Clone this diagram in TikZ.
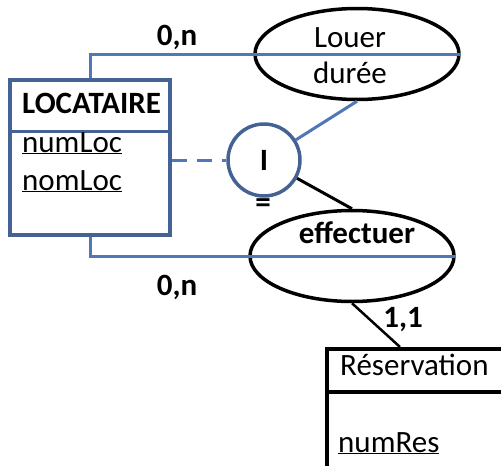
\documentclass[tikz,border=0pt]{standalone}
\usepackage{fontspec}
\setmainfont{Carlito}
\usetikzlibrary{shapes.geometric,calc}
\definecolor{entblue}{RGB}{68,98,148}
\definecolor{lnkblue}{RGB}{80,120,184}

\begin{document}
\begin{tikzpicture}[x=1pt,y=-1pt,font=\fontsize{31}{37}\selectfont,
   ent/.style={draw=entblue,line width=3.5pt,minimum width=160pt,minimum height=155pt},
   rel/.style={ellipse,draw,line width=3.5pt,minimum width=204pt,minimum height=91pt},
   lnk/.style={draw=lnkblue,line width=3pt},
   txt/.style={anchor=base west,inner sep=0pt},
   lab/.style={anchor=base,inner sep=0pt,font=\fontsize{31}{37}\selectfont\bfseries}]
  \clip (0,0) rectangle (501,466);
  % entities
  \node[ent] (loc) at (90,157.5) {};
  \draw[lnk,draw=entblue,line width=2.5pt] ([yshift=-53pt]loc.north west) -- ([yshift=-53pt]loc.north east);
  \node[txt] (loctitle) at (22,113) {\textbf{LOCATAIRE}};
  \node[txt] (numloc) at (22,152) {\underline{numLoc}};
  \node[txt] (nomloc) at (22,190) {\underline{nomLoc}};
  \node[draw,line width=3.5pt,minimum width=250pt,minimum height=200pt,anchor=north west] (res) at (325,347) {};
  \draw[line width=3.5pt] ([yshift=-45pt]res.north west) -- ([yshift=-45pt]res.north east);
  \node[txt] (restitle) at (340,375) {Réservation};
  \node[txt] (numres) at (338,452) {\underline{numRes}};
  % associations
  \node[rel] (louer) at (357,54) {};
  \node[anchor=base,inner sep=0pt] (louername) at (350,47) {Louer};
  \node[anchor=base,inner sep=0pt] (duree) at (350,83) {durée};
  \node[rel] (eff) at (352,256) {};
  \node[lab] (effname) at (357,243) {effectuer};
  % inclusion constraint
  \node[circle,draw=entblue,line width=3.5pt,minimum size=72pt,inner sep=0pt] (cif) at (264,160) {\textbf{I}};
  \node[lab] (eq) at (263,212) {=};
  % links
  \draw[lnk] (loc.north) |- (louer.west) -- (louer.east);
  \draw[lnk] (loc.south) |- (eff.west) -- (eff.east);
  \draw[lnk,dash pattern=on 15pt off 10pt] (loc.east |- cif.west) -- (cif.west);
  \draw[lnk] (cif) -- (louer.south);
  \draw[line width=3pt] (cif) -- (eff.north);
  \draw[line width=2.5pt] (eff.south) -- ([xshift=75pt]res.north west);
  % cardinalities
  \node[lab] (card1) at (177,45) {0,n};
  \node[lab] (card2) at (177,295) {0,n};
  \node[lab] (card3) at (403,327) {1,1};
\end{tikzpicture}
\end{document}
